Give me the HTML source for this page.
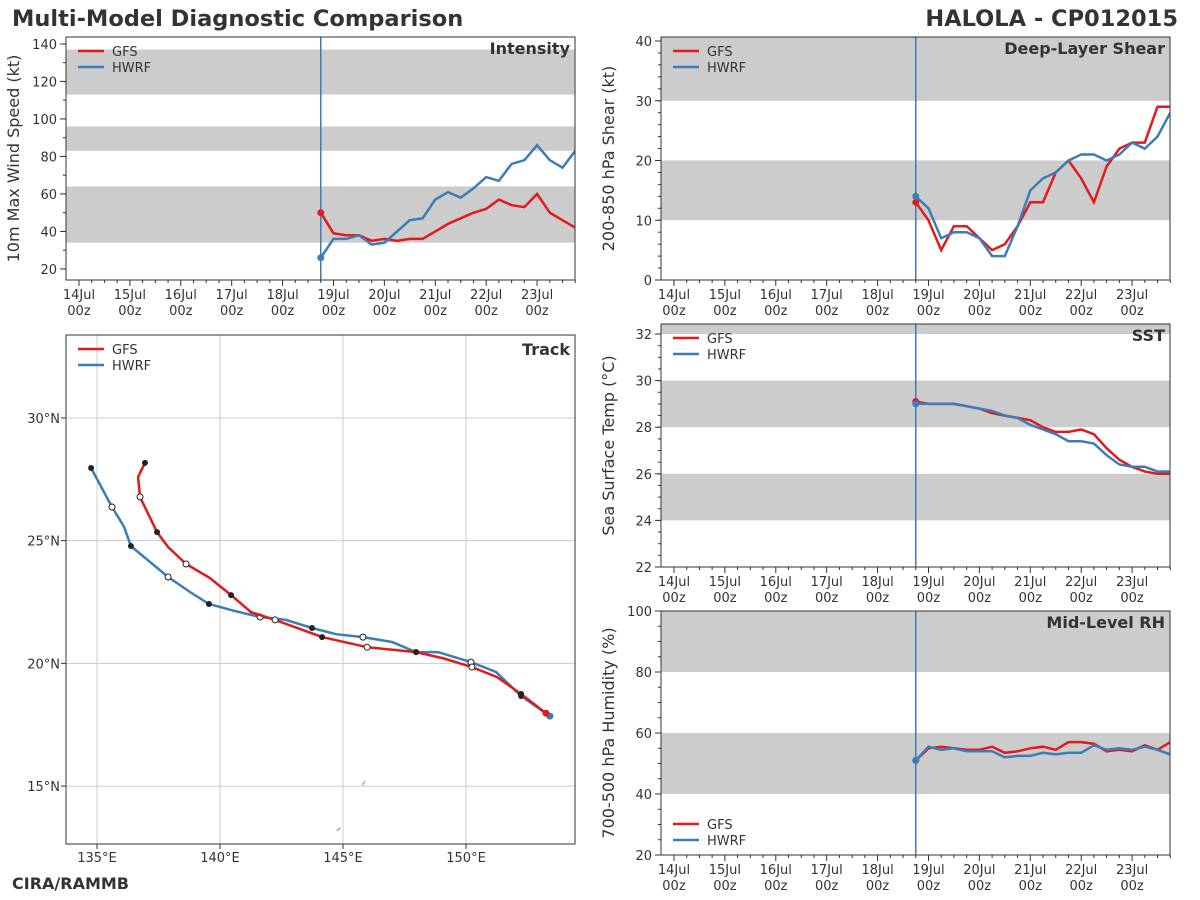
<!DOCTYPE html>
<html><head><meta charset="utf-8"><style>
body{margin:0;background:#fff;}
svg{display:block;font-family:"DejaVu Sans","Liberation Sans",sans-serif;}
</style></head><body>
<svg id="s" width="1200" height="900" viewBox="0 0 1200 900" xmlns="http://www.w3.org/2000/svg">
<text x="12" y="26" font-size="22.5" font-weight="bold" fill="#333">Multi-Model Diagnostic Comparison</text>
<text x="1178" y="26" font-size="22.5" font-weight="bold" fill="#333" text-anchor="end">HALOLA - CP012015</text>
<text x="12" y="889" font-size="16" font-weight="bold" fill="#333">CIRA/RAMMB</text>
</svg>
<script>
const NS="http://www.w3.org/2000/svg";
const svg=document.getElementById('s');
const RED="#e31a1c",BLUE="#3a7db8";
const dayLabels=["14Jul","15Jul","16Jul","17Jul","18Jul","19Jul","20Jul","21Jul","22Jul","23Jul"];
const t0=4.75, dt=0.25;
const intGFS=[50,39,38,38,35,36,35,36,36,40,44,47,50,52,57,54,53,60,50,46,42];
const intHWRF=[26,36,36,38,33,34,40,46,47,57,61,58,63,69,67,76,78,86,78,74,83];
const shrGFS=[13,10,5,9,9,7,5,6,9,13,13,18,20,17,13,19,22,23,23,29,29];
const shrHWRF=[14,12,7,8,8,7,4,4,9,15,17,18,20,21,21,20,21,23,22,24,28];
const sstGFS=[29.1,29.0,29.0,29.0,28.9,28.8,28.6,28.5,28.4,28.3,28.0,27.8,27.8,27.9,27.7,27.1,26.6,26.3,26.1,26.0,26.0];
const sstHWRF=[29.0,29.0,29.0,29.0,28.9,28.8,28.7,28.5,28.4,28.1,27.9,27.7,27.4,27.4,27.3,26.8,26.4,26.3,26.3,26.1,26.1];
const rhGFS=[51,55,55.5,55,54.5,54.5,55.5,53.5,54,55,55.5,54.5,57,57,56.5,54,54.5,54,56,54.5,57];
const rhHWRF=[51,55.5,54.5,55,54,54,54,52,52.5,52.5,53.5,53,53.5,53.5,56,54.5,55,54.5,55.5,54.5,53];
const trkGFSLon=[153.25,152.24,151.26,150.24,149.1,147.97,145.98,144.15,142.24,141.26,140.45,139.59,138.62,137.89,137.44,136.75,136.67,136.95];
const trkGFSLat=[17.97,18.75,19.44,19.85,20.2,20.46,20.66,21.07,21.77,22.09,22.78,23.48,24.05,24.74,25.35,26.78,27.6,28.17];
const trkGFSMark=[1,2,0,3,0,2,3,2,3,0,2,0,3,0,2,3,0,2];
const trkHWRFLon=[153.41,152.24,151.22,150.2,148.86,147.97,146.99,145.81,144.72,143.74,142.68,141.63,140.61,139.55,138.78,137.89,136.38,136.1,135.61,134.76];
const trkHWRFLat=[17.85,18.67,19.65,20.05,20.46,20.46,20.87,21.07,21.19,21.44,21.77,21.89,22.13,22.42,22.91,23.52,24.78,25.56,26.37,27.96];
const trkHWRFMark=[1,2,0,3,0,2,0,3,0,2,0,3,0,2,0,3,2,0,3,2];

function el(tag,attrs,parent){const e=document.createElementNS(NS,tag);for(const k in attrs)e.setAttribute(k,attrs[k]);(parent||svg).appendChild(e);return e;}
function txt(x,y,s,attrs){const e=el('text',Object.assign({x:x,y:y,'font-size':13,fill:'#333'},attrs||{}));e.textContent=s;return e;}

function tsPanel(name,L,T,R,B,ymin,ymax,bands,major,minor,ylab,title,g,h,legendBottom){
  const sx=d=>L+(d+0.255)/10*(R-L);
  const sy=v=>B-(v-ymin)/(ymax-ymin)*(B-T);
  const grp=el('g',{});
  
  
  bands.forEach(b=>{const r=el('rect',{x:L,y:sy(Math.min(b[1],ymax)),width:R-L,height:sy(b[0])-sy(Math.min(b[1],ymax)),fill:'#cccccc'},grp);
    });
  for(let v=Math.ceil(ymin/minor)*minor;v<=ymax+1e-9;v+=minor){el('line',{x1:L-3,x2:L,y1:sy(v),y2:sy(v),stroke:'#333','stroke-width':1},grp);}
  major.forEach(v=>{el('line',{x1:L-6,x2:L,y1:sy(v),y2:sy(v),stroke:'#333','stroke-width':1},grp);
    const t=txt(L-9,sy(v)+5,String(v),{'text-anchor':'end'});grp.appendChild(t);});
  for(let d=0;d<10;d++){const x=sx(d);el('line',{x1:x,x2:x,y1:B,y2:B+6,stroke:'#333'},grp);
    for(let q=1;q<4;q++)el('line',{x1:sx(d+q/4),x2:sx(d+q/4),y1:B,y2:B+3,stroke:'#333'},grp);
    const a=txt(x,B+19,dayLabels[d],{'text-anchor':'middle'});grp.appendChild(a);
    const b=txt(x,B+35,'00z',{'text-anchor':'middle'});grp.appendChild(b);}
  const yl=txt(0,0,ylab,{'font-size':16,'text-anchor':'middle',transform:`translate(${L-47},${(T+B)/2}) rotate(-90)`});
  grp.appendChild(yl);
  const vl=el('line',{x1:sx(t0),x2:sx(t0),y1:T,y2:B,stroke:BLUE,'stroke-width':1.5},grp);
  
  [[g,RED,'gfs'],[h,BLUE,'hwrf']].forEach(([arr,c,n])=>{
    const pts=arr.map((v,i)=>sx(t0+i*dt).toFixed(1)+','+sy(v).toFixed(1)).join(' ');
    const p=el('polyline',{points:pts,fill:'none',stroke:c,'stroke-width':2.5,'clip-path':'url(#clip-'+name+')'},grp);
    
    const d=el('circle',{cx:sx(t0),cy:sy(arr[0]),r:3.5,fill:c},grp);
    
  });
  const cp=el('clipPath',{id:'clip-'+name});el('rect',{x:L,y:T,width:R-L,height:B-T},cp);
  el('rect',{x:L,y:T,width:R-L,height:B-T,fill:'none',stroke:'#333','stroke-width':1},grp);
  const tt=txt(R-5,T+17,title,{'font-size':16,'font-weight':'bold','text-anchor':'end'});
  grp.appendChild(tt);
  legend(grp,L,legendBottom?B-45:T);
}
function legend(grp,L,T){
  [['GFS',RED],['HWRF',BLUE]].forEach(([n,c],i)=>{
    const y=T+14+i*16;
    const ln=el('line',{x1:L+12,x2:L+38,y1:y,y2:y,stroke:c,'stroke-width':2.5},grp);
    
    const t=txt(L+46,y+5,n,{});grp.appendChild(t);
  });
}
tsPanel('intensity',66,37,575,280,14.1,143.7,[[34,64],[83,96],[113,137]],[20,40,60,80,100,120,140],10,'10m Max Wind Speed (kt)','Intensity',intGFS,intHWRF,false);
tsPanel('shear',661,37,1170,280,0,40.67,[[10,20],[30,50]],[0,10,20,30,40],2,'200-850 hPa Shear (kt)','Deep-Layer Shear',shrGFS,shrHWRF,false);
tsPanel('sst',661,324,1170,567,22,32.43,[[24,26],[28,30],[32,40]],[22,24,26,28,30,32],0.5,'Sea Surface Temp (°C)','SST',sstGFS,sstHWRF,false);
tsPanel('rh',661,611,1170,855,20,100,[[40,60],[80,100]],[20,40,60,80,100],5,'700-500 hPa Humidity (%)','Mid-Level RH',rhGFS,rhHWRF,true);

(function(){
  const L=66,T=335,R=575,B=844, lon0=133.74,lon1=154.43,lat0=12.64,lat1=33.38;
  const sx=v=>L+(v-lon0)/(lon1-lon0)*(R-L);
  const sy=v=>B-(v-lat0)/(lat1-lat0)*(B-T);
  const grp=el('g',{});
  
  [135,140,145,150].forEach(v=>{el('line',{x1:sx(v),x2:sx(v),y1:T,y2:B,stroke:'#cccccc','stroke-width':1},grp);
    el('line',{x1:sx(v),x2:sx(v),y1:B,y2:B+5,stroke:'#333'},grp);
    const t=txt(sx(v),B+18,v+'°E',{'text-anchor':'middle'});grp.appendChild(t);});
  [15,20,25,30].forEach(v=>{el('line',{x1:L,x2:R,y1:sy(v),y2:sy(v),stroke:'#cccccc','stroke-width':1},grp);
    el('line',{x1:L-5,x2:L,y1:sy(v),y2:sy(v),stroke:'#333'},grp);
    const t=txt(L-6,sy(v)+5,v+'°N',{'text-anchor':'end'});grp.appendChild(t);});
  el('path',{d:`M${sx(145.9)} ${sy(15.2)} l-3 4 M${sx(144.9)} ${sy(13.3)} l-4 3`,stroke:'#bbb','stroke-width':2},grp);
  [[trkHWRFLon,trkHWRFLat,trkHWRFMark,BLUE,'hwrf'],[trkGFSLon,trkGFSLat,trkGFSMark,RED,'gfs']].forEach(([lo,la,mk,c,n])=>{
    const p=el('polyline',{points:lo.map((v,i)=>sx(v).toFixed(1)+','+sy(la[i]).toFixed(1)).join(' '),fill:'none',stroke:c,'stroke-width':2.5},grp);
    
    lo.forEach((v,i)=>{const m=mk[i];if(!m)return;
      const ci=el('circle',{cx:sx(v),cy:sy(la[i]),r:m===1?3.5:3,fill:m===1?c:(m===2?'#222':'#fff'),stroke:m===3?'#222':'none','stroke-width':1},grp);
      });
  });
  el('rect',{x:L,y:T,width:R-L,height:B-T,fill:'none',stroke:'#333'},grp);
  const tt=txt(R-5,T+20,'Track',{'font-size':16,'font-weight':'bold','text-anchor':'end'});
  grp.appendChild(tt);
  legend(grp,L,T);
})();
</script>
</body></html>
